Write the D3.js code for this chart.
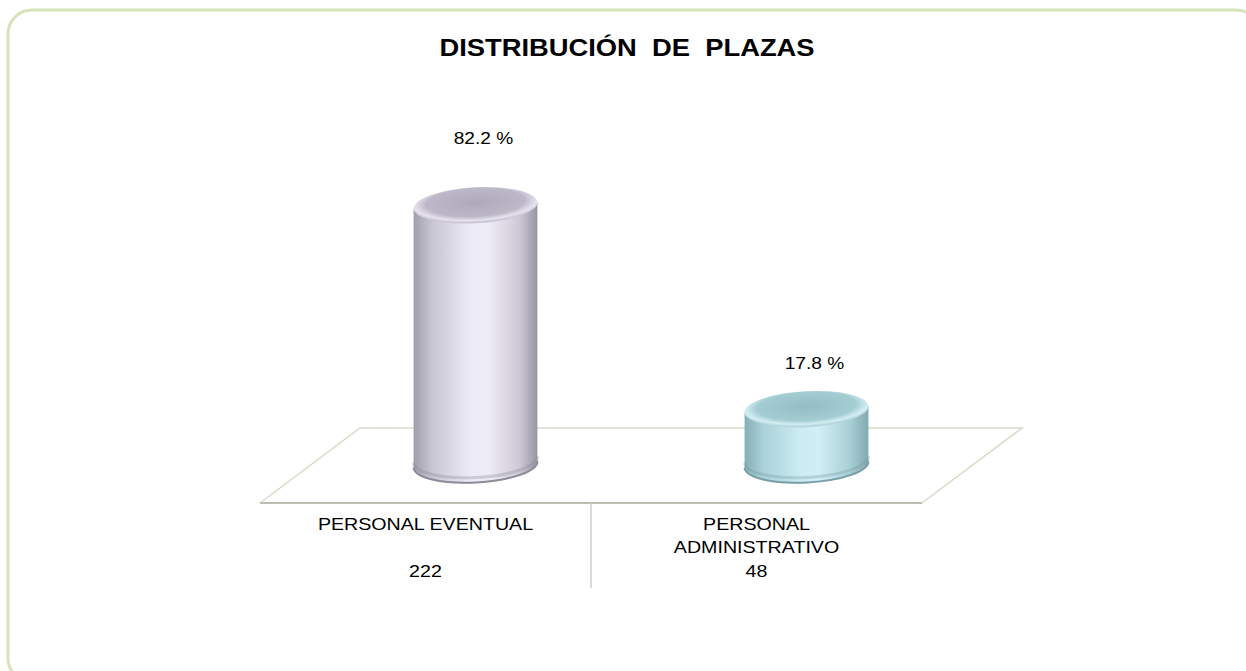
<!DOCTYPE html>
<html>
<head>
<meta charset="utf-8">
<script src="https://cdn.jsdelivr.net/npm/d3@7"></script>
<style>
  body { margin: 0; background: #fff; }
  text { font-family: Arial, "Liberation Sans", sans-serif; fill: #000; }
</style>
</head>
<body>
<div class="chart"></div>
<script>
var categories = ["PERSONAL EVENTUAL", "PERSONAL\nADMINISTRATIVO"]
var counts = [222, 48]
var percents = [82.2, 17.8]
var title = "DISTRIBUCIÓN  DE  PLAZAS"

var W = 1246, H = 671
var svg = d3.select('.chart')
    .append('svg')
    .attr('width', W)
    .attr('height', H)

// frame
svg.append('rect')
    .attr('x', 8).attr('y', 10)
    .attr('width', 1252).attr('height', 672)
    .attr('rx', 24)
    .attr('fill', '#fff')
    .attr('stroke', '#d6e3bb')
    .attr('stroke-width', 3)

function label(x, y, txt, size, bold, stretch) {
    return svg.append('text')
        .attr('transform', 'translate(' + x + ',' + y + ') scale(' + stretch + ',1)')
        .attr('text-anchor', 'middle')
        .style('font-size', size + 'px')
        .style('font-weight', bold ? 'bold' : 'normal')
        .style('white-space', 'pre')
        .text(txt)
}

label(627, 56, title, 24, true, 1.14)

// floor (3d plane)
var floorFront = 503, depthX = 100, depthY = 75
var frontLeft = 260, frontRight = 922
svg.append('path')
    .attr('d', 'M' + frontLeft + ',' + floorFront + ' L' + (frontLeft + depthX) + ',' + (floorFront - depthY) +
        ' L' + (frontRight + depthX) + ',' + (floorFront - depthY) + ' L' + frontRight + ',' + floorFront)
    .attr('fill', 'none')
    .attr('stroke', '#d9d9c9')
    .attr('stroke-width', 1.5)
svg.append('line')
    .attr('x1', frontLeft).attr('x2', frontRight)
    .attr('y1', floorFront).attr('y2', floorFront)
    .attr('stroke', '#bdbdb4')
    .attr('stroke-width', 2)

// category axis along the front edge
var xFront = d3.scaleBand().domain(categories).range([frontLeft, frontRight])
svg.append('line')
    .attr('x1', xFront(categories[1])).attr('x2', xFront(categories[1]))
    .attr('y1', floorFront).attr('y2', 588)
    .attr('stroke', '#cfcfc8')
    .attr('stroke-width', 1.5)

categories.forEach(function (c, i) {
    var cx = xFront(c) + xFront.bandwidth() / 2
    c.split('\n').forEach(function (line, j) {
        label(cx, 530 + j * 23, line, 16.5, false, 1.19)
    })
    label(cx, 577, String(counts[i]), 16.5, false, 1.19)
})

// bars sit at mid depth of the floor
var base = floorFront - depthY / 2
var x = d3.scaleBand().domain(categories)
    .range([frontLeft + depthX / 2, frontRight + depthX / 2])
var y = d3.scaleLinear().domain([0, 100]).range([base, 149])

var palettes = [
    { side: ['#a19eac', '#c9c5d4', '#ecEAf6', '#efedf8', '#cdc9d6', '#9995a3'],
      top: ['#aeaab9', '#bcb8c8', '#e6e3ee', '#cac6d4'], edge: '#8e8b99' },
    { side: ['#86aeb6', '#aad1d8', '#cbecf2', '#cfeff4', '#a9cfd6', '#82a8b0'],
      top: ['#94bcc4', '#a4ccd3', '#d2eef3', '#b2d6dc'], edge: '#7a9fa7' }
]

var defs = svg.append('defs')
palettes.forEach(function (p, i) {
    var g = defs.append('linearGradient').attr('id', 'side' + i)
    var offs = [0, 0.15, 0.45, 0.6, 0.85, 1]
    p.side.forEach(function (col, k) {
        g.append('stop').attr('offset', offs[k]).attr('stop-color', col)
    })
    var r = defs.append('radialGradient').attr('id', 'top' + i)
        .attr('cx', '50%').attr('cy', '42%').attr('r', '55%')
    var roffs = [0, 0.72, 0.9, 1]
    p.top.forEach(function (col, k) {
        r.append('stop').attr('offset', roffs[k]).attr('stop-color', col)
    })
})

var rx = 62, ry = 18, tilt = 3
var dyTilt = rx * Math.sin(tilt * Math.PI / 180)
var dxTilt = rx * Math.cos(tilt * Math.PI / 180)

var bars = svg.selectAll('g.bar')
    .data(percents)
    .enter()
    .append('g')
    .attr('class', 'bar')

bars.each(function (v, i) {
    var g = d3.select(this)
    var cx = x(categories[i]) + x.bandwidth() / 2
    var top = y(v)
    var p = palettes[i]
    g.append('path')
        .attr('d', 'M' + (cx - dxTilt) + ',' + (top + dyTilt) +
            ' L' + (cx - dxTilt) + ',' + (base + dyTilt) +
            ' A' + rx + ',' + ry + ' ' + (-tilt) + ' 0 0 ' + (cx + dxTilt) + ',' + (base - dyTilt) +
            ' L' + (cx + dxTilt) + ',' + (top - dyTilt) + ' Z')
        .attr('fill', 'url(#side' + i + ')')
    g.append('path')
        .attr('d', 'M' + (cx - dxTilt) + ',' + (base + dyTilt - 6) +
            ' A' + rx + ',' + ry + ' ' + (-tilt) + ' 0 0 ' + (cx + dxTilt) + ',' + (base - dyTilt - 6))
        .attr('fill', 'none')
        .attr('stroke', p.edge)
        .attr('stroke-opacity', 0.35)
        .attr('stroke-width', 3)
    g.append('path')
        .attr('d', 'M' + (cx - dxTilt) + ',' + (base + dyTilt - 1) +
            ' A' + rx + ',' + ry + ' ' + (-tilt) + ' 0 0 ' + (cx + dxTilt) + ',' + (base - dyTilt - 1))
        .attr('fill', 'none')
        .attr('stroke', p.edge)
        .attr('stroke-width', 2)
    g.append('ellipse')
        .attr('cx', cx).attr('cy', top)
        .attr('rx', rx).attr('ry', ry)
        .attr('transform', 'rotate(' + (-tilt) + ',' + cx + ',' + top + ')')
        .attr('fill', 'url(#top' + i + ')')

    var h = base - top
    label(cx + 8, top - 35 - 0.1 * h, v.toFixed(1) + ' %', 16.5, false, 1.16)
})
</script>
</body>
</html>
